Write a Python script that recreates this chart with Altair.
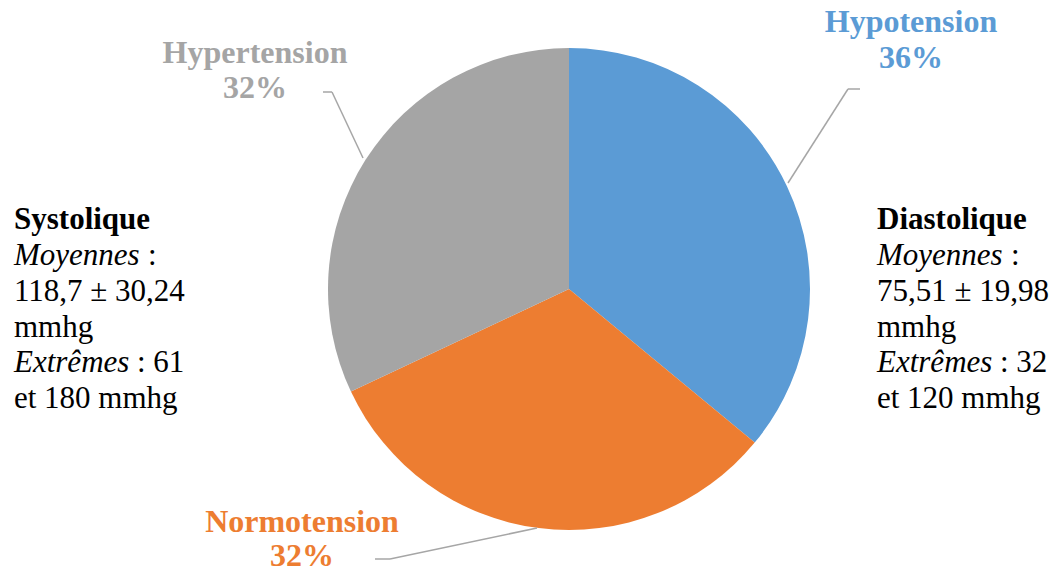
import altair as alt
import pandas as pd

# ---- data ----
categories = ["Hypotension", "Normotension", "Hypertension"]
percent = [36, 32, 32]
colors = ["#5B9BD5", "#ED7D31", "#A5A5A5"]

systolic_lines = ["Systolique", "Moyennes", ":", "118,7 ± 30,24", "mmhg", "Extrêmes", ": 61", "et 180 mmhg"]
diastolic_lines = ["Diastolique", "Moyennes", ":", "75,51 ± 19,98", "mmhg", "Extrêmes", ": 32", "et 120 mmhg"]

df = pd.DataFrame({"cat": categories, "pct": percent, "ord": [0, 1, 2]})

FONT = "Liberation Serif"
W, H = 1060, 573
CX, CY, R = 569, 289, 241

base = alt.Chart(df)

pie = base.mark_arc(radius=R, stroke="white", strokeWidth=0).encode(
    theta=alt.Theta("pct:Q", stack=True),
    color=alt.Color("cat:N", scale=alt.Scale(domain=categories, range=colors), legend=None),
    order=alt.Order("ord:Q"),
    x=alt.value(CX),
    y=alt.value(CY),
)

one = pd.DataFrame({"a": [0]})


def txt(s, x, y, size=31, bold=False, italic=False, color="black", align="left"):
    return alt.Chart(one).mark_text(
        font=FONT, fontSize=size, fontWeight="bold" if bold else "normal",
        fontStyle="italic" if italic else "normal", color=color, align=align,
        baseline="alphabetic",
    ).encode(x=alt.value(x), y=alt.value(y), text=alt.value(s))


def seg(x1, y1, x2, y2):
    return alt.Chart(one).mark_rule(color="#A6A6A6", strokeWidth=1.5).encode(
        x=alt.value(x1), y=alt.value(y1), x2=alt.value(x2), y2=alt.value(y2)
    )


layers = [pie]

# leader lines
layers += [
    seg(788, 183, 848, 89), seg(848, 89, 860, 89),
    seg(323, 92, 332, 92), seg(332, 92, 363, 158),
    seg(375, 559, 390, 559), seg(390, 559, 537, 528),
]

# category labels
label_pos = {"Hypotension": (911, 32, 68), "Hypertension": (255, 63, 98), "Normotension": (302, 532, 566)}
for c, p, col in zip(categories, percent, colors):
    x, y1, y2 = label_pos[c]
    layers.append(txt(c, x, y1, size=32, bold=True, color=col, align="center"))
    layers.append(txt(f"{p}%", x, y2, size=32, bold=True, color=col, align="center"))

# side blocks
baselines = [229, 265, 301, 337, 372, 408]
for lines, x0 in [(systolic_lines, 14), (diastolic_lines, 877)]:
    layers.append(txt(lines[0], x0, baselines[0], bold=True))
    layers.append(txt(lines[1], x0, baselines[1], italic=True))
    layers.append(txt(lines[2], x0 + 134, baselines[1]))
    layers.append(txt(lines[3], x0, baselines[2]))
    layers.append(txt(lines[4], x0, baselines[3]))
    layers.append(txt(lines[5], x0, baselines[4], italic=True))
    layers.append(txt(lines[6], x0 + 123, baselines[4]))
    layers.append(txt(lines[7], x0, baselines[5]))

chart = alt.layer(*layers).properties(
    width=W, height=H, autosize=alt.AutoSizeParams(type="none"), padding=0,
    background="white",
).configure_view(stroke=None)

chart.save("out.html", embed_options={"renderer": "svg", "actions": False})
